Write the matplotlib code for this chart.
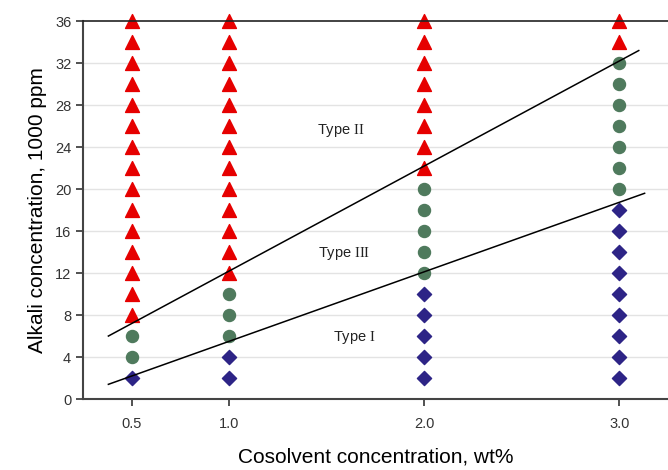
import matplotlib.pyplot as plt

plt.rcParams['font.family'] = ['Liberation Sans', 'DejaVu Sans']
plt.rcParams['mathtext.fontset'] = 'custom'
plt.rcParams['mathtext.rm'] = 'Liberation Serif'

# cosolvent concentration (wt%) and alkali concentration (1000 ppm)
type1_x = [0.5] + [1.0] * 2 + [2.0] * 5 + [3.0] * 9
type1_y = [2] + [2, 4] + [2, 4, 6, 8, 10] + [2, 4, 6, 8, 10, 12, 14, 16, 18]

type3_x = [0.5] * 2 + [1.0] * 3 + [2.0] * 5 + [3.0] * 7
type3_y = [4, 6] + [6, 8, 10] + [12, 14, 16, 18, 20] + [20, 22, 24, 26, 28, 30, 32]

type2_x = [0.5] * 15 + [1.0] * 13 + [2.0] * 8 + [3.0] * 2
type2_y = (list(range(8, 37, 2)) + list(range(12, 37, 2))
           + list(range(22, 37, 2)) + [34, 36])

# phase boundary lines
upper_x = [0.38, 3.10]
upper_y = [6.0, 33.2]
lower_x = [0.38, 3.13]
lower_y = [1.4, 19.6]

xticks = [0.5, 1.0, 2.0, 3.0]
yticks = list(range(0, 37, 4))

fig = plt.figure(figsize=(6.68, 4.70), dpi=100)
ax = fig.add_axes([0.1243, 0.151, 0.8757, 0.804])

for y in yticks[1:-1]:
    ax.axhline(y, color='#e3e3e3', lw=1, zorder=0)

ax.plot(upper_x, upper_y, color='black', lw=1.1, zorder=3)
ax.plot(lower_x, lower_y, color='black', lw=1.1, zorder=3)

ax.scatter(type2_x, type2_y, marker='^', s=100, color='#e60000', zorder=2, clip_on=False)
ax.scatter(type3_x, type3_y, marker='o', s=75, color='#4f7a5d', zorder=2, clip_on=False)
ax.scatter(type1_x, type1_y, marker='D', s=52, color='#2d2486', zorder=2, clip_on=False)

ax.text(1.57, 25.6, r'Type $\mathrm{II}$', fontsize=10.5, ha='center', va='center', color='#222222')
ax.text(1.59, 13.9, r'Type $\mathrm{III}$', fontsize=10.5, ha='center', va='center', color='#222222')
ax.text(1.64, 5.9, r'Type $\mathrm{I}$', fontsize=10.5, ha='center', va='center', color='#222222')

ax.set_xlim(0.25, 3.25)
ax.set_ylim(0, 36)
ax.set_xticks(xticks)
ax.set_xticklabels(['%.1f' % v for v in xticks])
ax.set_yticks(yticks)
ax.tick_params(labelsize=10.5, colors='#333333', length=5, width=1.2)
ax.tick_params(axis='x', pad=8)

ax.spines['right'].set_visible(False)
for s in ['left', 'bottom']:
    ax.spines[s].set_color('#444444')
    ax.spines[s].set_linewidth(1.5)
ax.spines['top'].set_color('#222222')
ax.spines['top'].set_linewidth(1.2)

ax.set_xlabel('Cosolvent concentration, wt%', fontsize=15, labelpad=12)
ax.set_ylabel('Alkali concentration, 1000 ppm', fontsize=15, labelpad=6)

fig.savefig('out.png')
